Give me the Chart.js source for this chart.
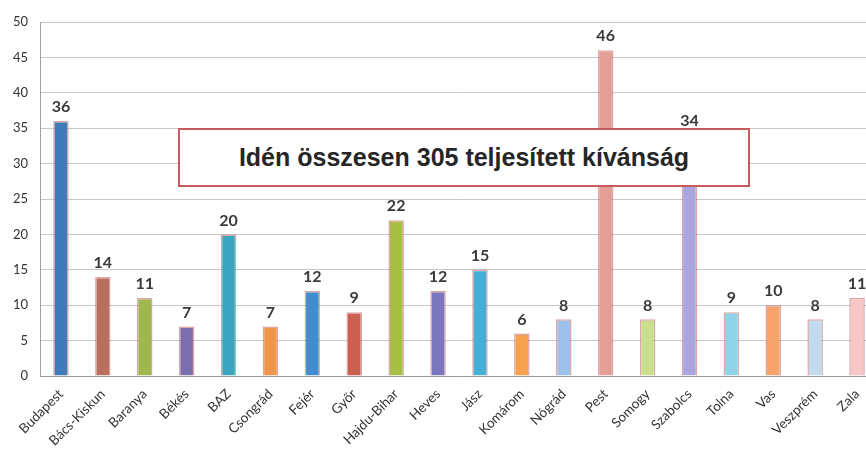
<!DOCTYPE html>
<html>
<head>
<meta charset="utf-8">
<script src="https://cdn.jsdelivr.net/npm/chart.js@4/dist/chart.umd.min.js"></script>
<style>
  html, body { margin: 0; padding: 0; background: #fff; overflow: hidden; }
  #wrap { position: relative; width: 880px; height: 454px; }
  #note {
    position: absolute; left: 178px; top: 128px; width: 568px; height: 55px;
    background: #fff; border: 2px solid #c95a5d;
    font-family: "Liberation Sans", Arial, sans-serif; font-weight: bold;
    font-size: 25px; color: #262626; text-align: center; line-height: 55px;
  }
</style>
</head>
<body>
<div id="wrap">
  <canvas id="bar-graph" width="880" height="454"></canvas>
  <div id="note">Idén összesen 305 teljesített kívánság</div>
</div>
<script>
// megyék (categories)
var counties = ["Budapest", "Bács-Kiskun", "Baranya", "Békés", "BAZ", "Csongrád", "Fejér", "Győr",
  "Hajdu-Bihar", "Heves", "Jász", "Komárom", "Nógrád", "Pest", "Somogy", "Szabolcs",
  "Tolna", "Vas", "Veszprém", "Zala"];
// teljesített kívánságok száma
var wishes = [36, 14, 11, 7, 20, 7, 12, 9, 22, 12, 15, 6, 8, 46, 8, 34, 9, 10, 8, 11];
var bar_colors = ["#3d7cb8", "#b9705f", "#a0b64f", "#7c6fae", "#3aa5bf", "#f0954a", "#3f8fd0", "#cc6050",
  "#a7bf44", "#7a77c0", "#45b0d6", "#f6a04e", "#9ec1ec", "#e39e97", "#c9df8e", "#a9a6df",
  "#8fd3e8", "#f9a36c", "#c3dbef", "#f6c7c5"];
var y_ticks = [0, 5, 10, 15, 20, 25, 30, 35, 40, 45, 50];

// draws the value above every bar
var value_labels = {
  id: "value_labels",
  afterDatasetsDraw: function(chart) {
    var ctx = chart.ctx;
    var meta = chart.getDatasetMeta(0);
    ctx.save();
    ctx.font = "bold 16px Lato, sans-serif";
    ctx.fillStyle = "#3a3a3a";
    ctx.textAlign = "center";
    ctx.textBaseline = "bottom";
    for (var i = 0; i < meta.data.length; i++) {
      var bar = meta.data[i];
      ctx.fillText(wishes[i], bar.x, bar.y - 6);
    }
    ctx.restore();
  }
};

var bar_ctx = document.getElementById("bar-graph").getContext("2d");
var my_bar = new Chart(bar_ctx, {
  type: "bar",
  data: {
    labels: counties,
    datasets: [{
      data: wishes,
      backgroundColor: bar_colors,
      borderColor: "rgba(190,95,95,0.55)",
      borderWidth: 1.5,
      barPercentage: 0.37,
      categoryPercentage: 1
    }]
  },
  options: {
    responsive: false,
    animation: false,
    layout: { padding: { left: 0, right: 2, top: 22, bottom: 0 } },
    plugins: { legend: { display: false }, tooltip: { enabled: false } },
    scales: {
      x: {
        grid: { display: false },
        border: { color: "#9a9a9a" },
        ticks: { color: "#333", font: { family: "Lato", size: 13.5 }, maxRotation: 45, minRotation: 45, padding: 2 },
        afterFit: function(s) { s.height = 78; }
      },
      y: {
        min: 0, max: 50,
        afterBuildTicks: function(s) { s.ticks = y_ticks.map(function(v) { return { value: v }; }); },
        grid: { color: "#c8c8c8", drawTicks: false },
        border: { color: "#a0a0a0" },
        ticks: { color: "#333", font: { family: "Lato", size: 13 }, padding: 12 },
        afterFit: function(s) { s.width = 40; }
      }
    }
  },
  plugins: [value_labels]
});
</script>
</body>
</html>
